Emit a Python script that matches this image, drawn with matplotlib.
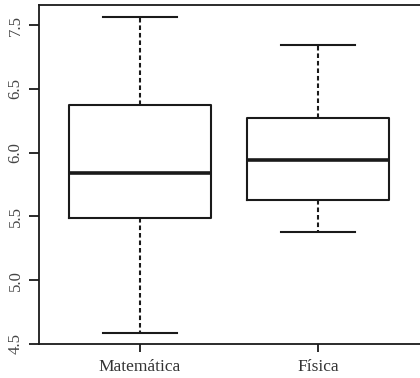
import matplotlib.pyplot as plt

# box stats
labels = ['Matemática', 'Física']
whislo = [4.59, 5.38]
q1 = [5.49, 5.63]
med = [5.84, 5.94]
q3 = [6.37, 6.27]
whishi = [7.06, 6.84]

yticks = [4.5, 5.0, 5.5, 6.0, 6.5, 7.0]
ytick_labels = ['4.5', '5.0', '5.5', '6.0', '6.5', '7.5']

plt.rcParams['font.family'] = ['Liberation Serif', 'DejaVu Serif']
ink = '#1a1a1a'

stats = []
for i in range(len(labels)):
    stats.append(dict(label=labels[i], whislo=whislo[i], q1=q1[i], med=med[i],
                      q3=q3[i], whishi=whishi[i], fliers=[]))

fig = plt.figure(figsize=(4.2, 3.78), dpi=100)
W, H = 420, 378
ax = fig.add_axes([39 / W, 1 - 344 / H, 381 / W, 339 / H])

ax.bxp(stats, positions=[1, 2], widths=0.8, capwidths=0.42, showfliers=False,
       boxprops=dict(color=ink, linewidth=1.5),
       medianprops=dict(color=ink, linewidth=2.6),
       whiskerprops=dict(color=ink, linewidth=1.5, linestyle=(0, (2.2, 1.4))),
       capprops=dict(color=ink, linewidth=1.5))

ax.set_xlim(0.433, 2.573)
ax.set_ylim(4.5, 7.157)
ax.set_yticks(yticks)
ax.set_yticklabels(ytick_labels, rotation=90, va='center', color='#444444')
ax.set_xticks([1, 2])
ax.set_xticklabels(labels, color='#333333')
ax.tick_params(axis='y', length=7, width=1.3, pad=4, labelsize=12, color=ink)
ax.tick_params(axis='x', length=6, width=1.3, pad=5, labelsize=12.5, color=ink)

for s in ['left', 'top', 'bottom']:
    ax.spines[s].set_linewidth(1.3)
    ax.spines[s].set_color(ink)
ax.spines['right'].set_visible(False)

fig.savefig('out.png', dpi=100)
